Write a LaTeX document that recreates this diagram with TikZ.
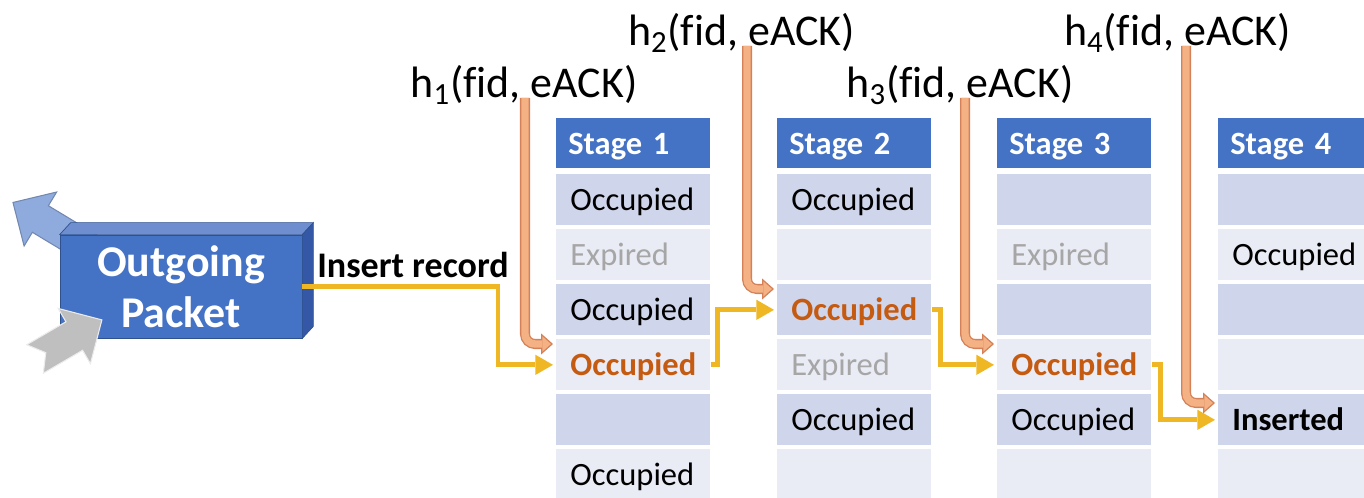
\documentclass[tikz,border=0pt]{standalone}
\usepackage{fontspec}
\setmainfont{Carlito}[Ligatures={TeX,NoCommon}]
\usetikzlibrary{arrows.meta}

\definecolor{hdr}{RGB}{68,114,196}
\definecolor{rowdark}{RGB}{207,213,234}
\definecolor{rowlight}{RGB}{233,235,245}
\definecolor{gonec}{RGB}{166,166,166}
\definecolor{hitc}{RGB}{197,90,17}
\definecolor{gold}{RGB}{240,183,36}
\definecolor{pipeedge}{RGB}{212,128,88}
\definecolor{pipefill}{RGB}{244,177,131}
\definecolor{boxtop}{RGB}{110,142,208}
\definecolor{boxside}{RGB}{52,88,165}
\definecolor{boxline}{RGB}{47,82,143}
\definecolor{arrblue}{RGB}{143,170,220}
\definecolor{arrgray}{RGB}{191,191,191}

\newcommand\hit[1]{\textcolor{hitc}{\bfseries #1}}
\newcommand\gone[1]{\textcolor{gonec}{#1}}

\tikzset{
  stagehead/.style={fill=hdr, text=white, font=\bfseries\fontsize{18.5}{22}\selectfont,
    minimum height=1cm, text width=2.6cm, inner xsep=0.24cm, align=left, anchor=north west,
    text height=13pt, text depth=0pt},
  cell/.style={minimum height=1.02cm, text width=2.52cm, inner xsep=0.28cm, align=left,
    anchor=north west, font=\fontsize{18.5}{22}\selectfont, text height=12pt, text depth=0pt},
  hashlbl/.style={anchor=base, inner sep=0pt, font=\fontsize{25}{30}\selectfont},
  flow/.style={draw=gold, line width=2.8pt, shorten >=0.06cm,
    -{Triangle[length=10pt, width=11.5pt, line width=0pt]}},
  pipe/.style={draw=pipefill, line width=4.2pt, rounded corners=0.2cm, shorten >=2.9pt,
    -{Triangle[length=4.8pt, width=8.6pt, line width=0pt]},
    preaction={draw=pipeedge, line width=5.7pt, shorten >=1.7pt,
      -{Triangle[length=6.8pt, width=12pt, line width=0pt]}}}
}

\begin{document}
\begin{tikzpicture}
  \useasboundingbox (0,0) rectangle (27.28,9.96);

  % blue arrow leaving, partly hidden by the packet
  \begin{scope}[shift={(1.835,4.96)}, rotate=148.9]
    \filldraw[fill=arrblue, draw=arrblue!80!black, line width=0.6pt]
      (0,-0.31) -- (1.2,-0.31) -- (1.2,-0.63) -- (1.84,0) -- (1.2,0.63) -- (1.2,0.31) -- (0,0.31) -- cycle;
  \end{scope}

  % the packet as a box
  \node[fill=hdr, draw=boxline, minimum width=4.84cm, minimum height=2.06cm, align=center,
        text=white, font=\bfseries\fontsize{25}{29}\selectfont] (pkt) at (3.62,4.23) {Outgoing\\Packet};
  \filldraw[fill=boxtop, draw=boxline] (pkt.north west) -- (pkt.north east) -- ++(0.22,0.24)
    -- ([shift={(0.22,0.24)}]pkt.north west) -- cycle;
  \filldraw[fill=boxside, draw=boxline] (pkt.north east) -- ++(0.22,0.24)
    -- ([shift={(0.22,0.24)}]pkt.south east) -- (pkt.south east) -- cycle;

  % gray arrow coming in
  \begin{scope}[shift={(0.70,2.78)}, rotate=30.3]
    \filldraw[fill=arrgray, draw=white!85!gray, line width=0.6pt]
      (0,-0.33) -- (0.91,-0.33) -- (0.91,-0.64) -- (1.55,0) -- (0.91,0.64) -- (0.91,0.33)
      -- (0,0.33) -- (0.25,0) -- cycle;
  \end{scope}

  % stages
  \foreach \s/\x/\cells in {
      1/11.12/{Occupied,\gone{Expired},Occupied,\hit{Occupied},{},Occupied},
      2/15.54/{Occupied,{},\hit{Occupied},\gone{Expired},Occupied,{}},
      3/19.94/{{},\gone{Expired},{},\hit{Occupied},Occupied,{}},
      4/24.36/{{},Occupied,{},{},\textbf{Inserted},{}}} {
    \node[stagehead] (st\s) at (\x,7.60) {Stage \s};
    \foreach \t [count=\r] in \cells {
      \pgfmathtruncatemacro\k{mod(\r,2)}
      \ifnum\k=1 \def\rowc{rowdark}\else \def\rowc{rowlight}\fi
      \node[cell, fill=\rowc] (s\s-\r) at (\x,{6.48-1.1*(\r-1)}) {\t};
    }
  }

  % hash labels
  \node[hashlbl] (h1) at (10.48,8.00) {h\textsubscript{1}(fid, eACK)};
  \node[hashlbl] (h2) at (14.83,9.04) {h\textsubscript{2}(fid, eACK)};
  \node[hashlbl] (h3) at (19.20,8.00) {h\textsubscript{3}(fid, eACK)};
  \node[hashlbl] (h4) at (23.55,9.04) {h\textsubscript{4}(fid, eACK)};

  \node[anchor=base west, inner sep=0pt, font=\bfseries\fontsize{20.5}{24}\selectfont] (ins) at (6.34,4.40) {Insert record};

  % record path
  \draw[flow] (pkt.east) -| ([xshift=-1.16cm]s1-4.west) -- (s1-4.west);
  \draw[flow] (s1-4.east) -- ++(0.14,0) |- (s2-3.west);
  \draw[flow] (s2-3.east) -- ++(0.18,0) |- (s3-4.west);
  \draw[flow] (s3-4.east) -- ++(0.18,0) |- (s4-5.west);

  % hash pipes
  \draw[pipe] ([xshift=0.02cm]h1.base) |- ([yshift=-0.10cm]s1-4.north west);
  \draw[pipe] ([xshift=0.11cm]h2.base) |- ([yshift=-0.10cm]s2-3.north west);
  \draw[pipe] ([xshift=0.10cm]h3.base) |- ([yshift=-0.10cm]s3-4.north west);
  \draw[pipe] ([xshift=0.17cm]h4.base) |- ([yshift=-0.18cm]s4-5.north west);
\end{tikzpicture}
\end{document}
